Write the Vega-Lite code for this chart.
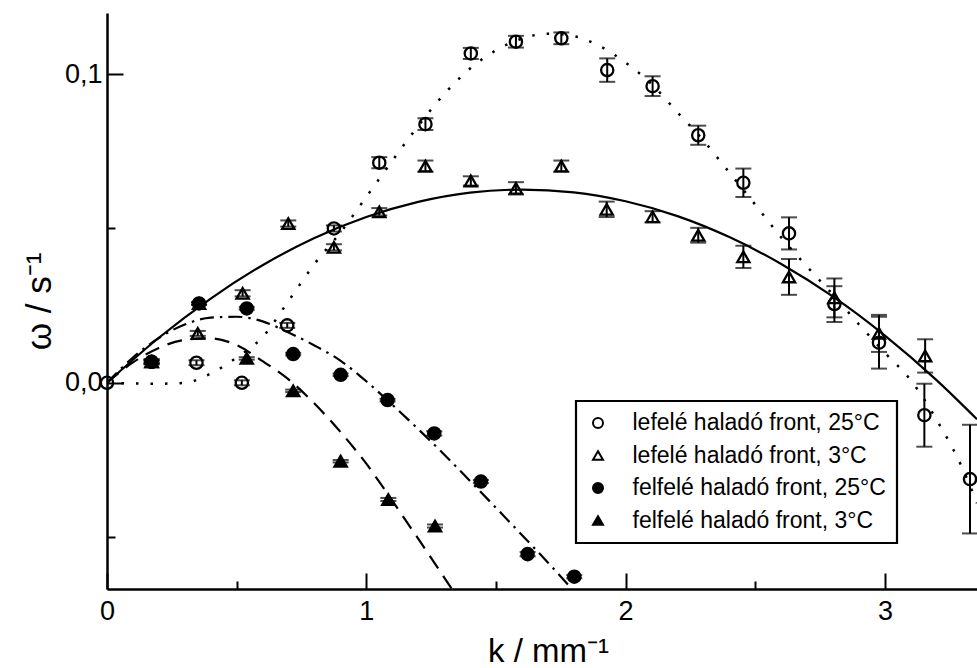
{
  "$schema": "https://vega.github.io/schema/vega-lite/v6.json",
  "width": 870,
  "height": 576,
  "autosize": {"type": "none"},
  "padding": {"left": 107, "top": 13, "right": 0, "bottom": 79},
  "background": "white",
  "config": {
    "view": {"stroke": null},
    "font": "Liberation Sans",
    "axis": {
      "domainColor": "black", "domainWidth": 2.5, "tickColor": "black", "tickWidth": 2,
      "labelColor": "black", "titleColor": "black", "labelFont": "Liberation Sans", "titleFont": "Liberation Sans",
      "labelFontSize": 27, "titleFontSize": 35, "titleFontWeight": "normal", "grid": false
    },
    "legend": {
      "labelFont": "Liberation Sans", "labelFontSize": 23, "labelColor": "black", "labelLimit": 500,
      "strokeColor": "black", "strokeWidth": 2.2, "fillColor": "white", "padding": 10.5,
      "symbolSize": 100, "symbolStrokeWidth": 2, "symbolOffset": 0,
      "labelOffset": 23, "rowPadding": 8.5
    }
  },
  "resolve": {"axis": {"x": "independent", "y": "independent"}},
  "datasets": {
    "pts": [
      {"s": "lefelé haladó front, 25°C", "k": 0, "w": 0, "e": 0},
      {"s": "lefelé haladó front, 25°C", "k": 0.172, "w": 0.0068, "e": 0.0008},
      {"s": "lefelé haladó front, 25°C", "k": 0.345, "w": 0.0065, "e": 0.0008},
      {"s": "lefelé haladó front, 25°C", "k": 0.52, "w": 0.0, "e": 0.0008},
      {"s": "lefelé haladó front, 25°C", "k": 0.695, "w": 0.0186, "e": 0.0008},
      {"s": "lefelé haladó front, 25°C", "k": 0.875, "w": 0.05, "e": 0.001},
      {"s": "lefelé haladó front, 25°C", "k": 1.05, "w": 0.0713, "e": 0.0018},
      {"s": "lefelé haladó front, 25°C", "k": 1.228, "w": 0.0838, "e": 0.0019},
      {"s": "lefelé haladó front, 25°C", "k": 1.403, "w": 0.1067, "e": 0.0018},
      {"s": "lefelé haladó front, 25°C", "k": 1.577, "w": 0.1105, "e": 0.0019},
      {"s": "lefelé haladó front, 25°C", "k": 1.752, "w": 0.1116, "e": 0.0019},
      {"s": "lefelé haladó front, 25°C", "k": 1.929, "w": 0.1013, "e": 0.0038},
      {"s": "lefelé haladó front, 25°C", "k": 2.104, "w": 0.0961, "e": 0.0032},
      {"s": "lefelé haladó front, 25°C", "k": 2.28, "w": 0.0802, "e": 0.0031},
      {"s": "lefelé haladó front, 25°C", "k": 2.454, "w": 0.0648, "e": 0.0046},
      {"s": "lefelé haladó front, 25°C", "k": 2.63, "w": 0.0484, "e": 0.0052},
      {"s": "lefelé haladó front, 25°C", "k": 2.805, "w": 0.0255, "e": 0.0058},
      {"s": "lefelé haladó front, 25°C", "k": 2.977, "w": 0.013, "e": 0.0084},
      {"s": "lefelé haladó front, 25°C", "k": 3.152, "w": -0.0105, "e": 0.0102},
      {"s": "lefelé haladó front, 25°C", "k": 3.328, "w": -0.0312, "e": 0.0176},
      {"s": "lefelé haladó front, 3°C", "k": 0.172, "w": 0.0068, "e": 0.0008},
      {"s": "lefelé haladó front, 3°C", "k": 0.35, "w": 0.016, "e": 0.0008},
      {"s": "lefelé haladó front, 3°C", "k": 0.523, "w": 0.029, "e": 0.001},
      {"s": "lefelé haladó front, 3°C", "k": 0.699, "w": 0.0516, "e": 0.001},
      {"s": "lefelé haladó front, 3°C", "k": 0.875, "w": 0.0439, "e": 0.001},
      {"s": "lefelé haladó front, 3°C", "k": 1.05, "w": 0.0554, "e": 0.0012},
      {"s": "lefelé haladó front, 3°C", "k": 1.228, "w": 0.0702, "e": 0.0018},
      {"s": "lefelé haladó front, 3°C", "k": 1.403, "w": 0.0654, "e": 0.0015},
      {"s": "lefelé haladó front, 3°C", "k": 1.577, "w": 0.063, "e": 0.002},
      {"s": "lefelé haladó front, 3°C", "k": 1.752, "w": 0.0702, "e": 0.0018},
      {"s": "lefelé haladó front, 3°C", "k": 1.927, "w": 0.0562, "e": 0.0025},
      {"s": "lefelé haladó front, 3°C", "k": 2.104, "w": 0.0538, "e": 0.0018},
      {"s": "lefelé haladó front, 3°C", "k": 2.28, "w": 0.0478, "e": 0.0024},
      {"s": "lefelé haladó front, 3°C", "k": 2.454, "w": 0.0408, "e": 0.0036},
      {"s": "lefelé haladó front, 3°C", "k": 2.63, "w": 0.0343, "e": 0.0058},
      {"s": "lefelé haladó front, 3°C", "k": 2.805, "w": 0.0275, "e": 0.0063},
      {"s": "lefelé haladó front, 3°C", "k": 2.977, "w": 0.016, "e": 0.006},
      {"s": "lefelé haladó front, 3°C", "k": 3.155, "w": 0.0087, "e": 0.0054},
      {"s": "felfelé haladó front, 25°C", "k": 0.172, "w": 0.0068, "e": 0.0004},
      {"s": "felfelé haladó front, 25°C", "k": 0.355, "w": 0.0257, "e": 0.0004},
      {"s": "felfelé haladó front, 25°C", "k": 0.539, "w": 0.0241, "e": 0.0004},
      {"s": "felfelé haladó front, 25°C", "k": 0.718, "w": 0.0093, "e": 0.0004},
      {"s": "felfelé haladó front, 25°C", "k": 0.901, "w": 0.0026, "e": 0.0004},
      {"s": "felfelé haladó front, 25°C", "k": 1.082, "w": -0.0056, "e": 0.0004},
      {"s": "felfelé haladó front, 25°C", "k": 1.262, "w": -0.0164, "e": 0.0007},
      {"s": "felfelé haladó front, 25°C", "k": 1.442, "w": -0.032, "e": 0.0005},
      {"s": "felfelé haladó front, 25°C", "k": 1.622, "w": -0.0555, "e": 0.0007},
      {"s": "felfelé haladó front, 25°C", "k": 1.802, "w": -0.0628, "e": 0.0005},
      {"s": "felfelé haladó front, 3°C", "k": 0.172, "w": 0.0068, "e": 0.0004},
      {"s": "felfelé haladó front, 3°C", "k": 0.355, "w": 0.0257, "e": 0.0004},
      {"s": "felfelé haladó front, 3°C", "k": 0.539, "w": 0.0079, "e": 0.0004},
      {"s": "felfelé haladó front, 3°C", "k": 0.718, "w": -0.0026, "e": 0.0004},
      {"s": "felfelé haladó front, 3°C", "k": 0.901, "w": -0.0254, "e": 0.0004},
      {"s": "felfelé haladó front, 3°C", "k": 1.085, "w": -0.0378, "e": 0.0005},
      {"s": "felfelé haladó front, 3°C", "k": 1.265, "w": -0.0464, "e": 0.0005}
    ],
    "curves": [
      {"c": "solid", "k": 0, "w": 0}, {"c": "solid", "k": 0.2, "w": 0.0146}, {"c": "solid", "k": 0.4, "w": 0.0273},
      {"c": "solid", "k": 0.6, "w": 0.0381}, {"c": "solid", "k": 0.8, "w": 0.0469}, {"c": "solid", "k": 1.0, "w": 0.0537},
      {"c": "solid", "k": 1.2, "w": 0.0586}, {"c": "solid", "k": 1.4, "w": 0.0616}, {"c": "solid", "k": 1.6, "w": 0.0626},
      {"c": "solid", "k": 1.8, "w": 0.0617}, {"c": "solid", "k": 2.0, "w": 0.0588}, {"c": "solid", "k": 2.2, "w": 0.054},
      {"c": "solid", "k": 2.4, "w": 0.0472}, {"c": "solid", "k": 2.6, "w": 0.0385}, {"c": "solid", "k": 2.8, "w": 0.0279},
      {"c": "solid", "k": 3.0, "w": 0.0153}, {"c": "solid", "k": 3.2, "w": 0.0008}, {"c": "solid", "k": 3.355, "w": -0.0118},

      {"c": "dotted", "k": 0, "w": 0}, {"c": "dotted", "k": 0.1, "w": -0.0002}, {"c": "dotted", "k": 0.2, "w": -0.0003},
      {"c": "dotted", "k": 0.3, "w": 0.0}, {"c": "dotted", "k": 0.4, "w": 0.003}, {"c": "dotted", "k": 0.5, "w": 0.0082},
      {"c": "dotted", "k": 0.6, "w": 0.0148}, {"c": "dotted", "k": 0.7, "w": 0.0265}, {"c": "dotted", "k": 0.8, "w": 0.0385},
      {"c": "dotted", "k": 0.9, "w": 0.0487}, {"c": "dotted", "k": 1.0, "w": 0.0602}, {"c": "dotted", "k": 1.1, "w": 0.0719},
      {"c": "dotted", "k": 1.2, "w": 0.0832}, {"c": "dotted", "k": 1.3, "w": 0.0935}, {"c": "dotted", "k": 1.4, "w": 0.1018},
      {"c": "dotted", "k": 1.5, "w": 0.1077}, {"c": "dotted", "k": 1.6, "w": 0.1115}, {"c": "dotted", "k": 1.7, "w": 0.1131},
      {"c": "dotted", "k": 1.8, "w": 0.1123}, {"c": "dotted", "k": 1.9, "w": 0.1091}, {"c": "dotted", "k": 2.0, "w": 0.1037},
      {"c": "dotted", "k": 2.1, "w": 0.0968}, {"c": "dotted", "k": 2.2, "w": 0.0876}, {"c": "dotted", "k": 2.3, "w": 0.0785},
      {"c": "dotted", "k": 2.4, "w": 0.0681}, {"c": "dotted", "k": 2.5, "w": 0.0577}, {"c": "dotted", "k": 2.6, "w": 0.0471},
      {"c": "dotted", "k": 2.7, "w": 0.0376}, {"c": "dotted", "k": 2.8, "w": 0.0285}, {"c": "dotted", "k": 2.9, "w": 0.0189},
      {"c": "dotted", "k": 3.0, "w": 0.0097}, {"c": "dotted", "k": 3.1, "w": 0.0008}, {"c": "dotted", "k": 3.2, "w": -0.0121},
      {"c": "dotted", "k": 3.3, "w": -0.0279}, {"c": "dotted", "k": 3.355, "w": -0.039},

      {"c": "dashdot", "k": 0, "w": 0}, {"c": "dashdot", "k": 0.1, "w": 0.0082}, {"c": "dashdot", "k": 0.2, "w": 0.0145},
      {"c": "dashdot", "k": 0.3, "w": 0.0189}, {"c": "dashdot", "k": 0.4, "w": 0.0211}, {"c": "dashdot", "k": 0.5, "w": 0.0214},
      {"c": "dashdot", "k": 0.6, "w": 0.0199}, {"c": "dashdot", "k": 0.7, "w": 0.0163}, {"c": "dashdot", "k": 0.8, "w": 0.0121},
      {"c": "dashdot", "k": 0.9, "w": 0.0072}, {"c": "dashdot", "k": 1.0, "w": 0.0005}, {"c": "dashdot", "k": 1.1, "w": -0.0071},
      {"c": "dashdot", "k": 1.2, "w": -0.015}, {"c": "dashdot", "k": 1.3, "w": -0.0232}, {"c": "dashdot", "k": 1.4, "w": -0.0318},
      {"c": "dashdot", "k": 1.5, "w": -0.0405}, {"c": "dashdot", "k": 1.6, "w": -0.0493}, {"c": "dashdot", "k": 1.7, "w": -0.0582},
      {"c": "dashdot", "k": 1.79, "w": -0.0665},

      {"c": "dashed", "k": 0, "w": 0}, {"c": "dashed", "k": 0.1, "w": 0.0066}, {"c": "dashed", "k": 0.2, "w": 0.0113},
      {"c": "dashed", "k": 0.3, "w": 0.0139}, {"c": "dashed", "k": 0.4, "w": 0.0144}, {"c": "dashed", "k": 0.5, "w": 0.0122},
      {"c": "dashed", "k": 0.6, "w": 0.007}, {"c": "dashed", "k": 0.7, "w": 0.0011}, {"c": "dashed", "k": 0.8, "w": -0.0067},
      {"c": "dashed", "k": 0.9, "w": -0.0159}, {"c": "dashed", "k": 1.0, "w": -0.0262}, {"c": "dashed", "k": 1.1, "w": -0.0382},
      {"c": "dashed", "k": 1.2, "w": -0.0505}, {"c": "dashed", "k": 1.3, "w": -0.063}, {"c": "dashed", "k": 1.33, "w": -0.0668}
    ]
  },
  "layer": [
    {
      "mark": {"type": "rule", "color": "#555555", "strokeWidth": 1.2, "strokeDash": [1.5, 3.5]},
      "encoding": {"y": {"datum": 0, "type": "quantitative", "axis": null}}
    },
    {
      "mark": {"type": "rule", "color": "black", "strokeWidth": 2.5},
      "encoding": {"y": {"datum": 0.1198, "type": "quantitative", "axis": null}}
    },
    {
      "data": {"name": "curves"},
      "transform": [{"filter": "datum.c == 'solid'"}],
      "mark": {"type": "line", "color": "black", "strokeWidth": 2.2, "clip": true, "interpolate": "monotone"},
      "encoding": {
        "x": {"field": "k", "type": "quantitative",
          "scale": {"domain": [0, 3.355], "nice": false, "zero": false},
          "axis": {"orient": "bottom", "title": "k / mm⁻¹", "values": [0, 1, 2, 3], "format": "d",
            "ticks": false, "labelPadding": 9, "labelFlush": false, "labelOverlap": false,
            "titleFontSize": 33, "titleBaseline": "alphabetic", "titleAlign": "center", "titleX": 441, "titleY": 72}},
        "y": {"field": "w", "type": "quantitative",
          "scale": {"domain": [-0.0668, 0.1198], "nice": false, "zero": false},
          "axis": {"orient": "left", "title": "ω / s⁻¹", "values": [0, 0.1],
            "labelExpr": "datum.value == 0 ? '0,0' : '0,1'",
            "ticks": false, "labelPadding": 5, "labelOverlap": false, "labelFlush": false,
            "titleBaseline": "alphabetic", "titleAlign": "center", "titleX": -57, "titleY": 288}}
      }
    },
    {
      "data": {"name": "curves"},
      "transform": [{"filter": "datum.c == 'dotted'"}],
      "mark": {"type": "line", "color": "black", "strokeWidth": 2.5, "clip": true, "interpolate": "monotone", "strokeDash": [2.5, 12]},
      "encoding": {
        "x": {"field": "k", "type": "quantitative",
          "axis": {"orient": "top", "offset": -576, "title": null, "values": [0, 1, 2, 3], "labels": false, "domain": false, "tickSize": 16}},
        "y": {"field": "w", "type": "quantitative",
          "axis": {"orient": "right", "offset": -870, "title": null, "values": [0, 0.1], "labels": false, "domain": false, "tickSize": 16}}
      }
    },
    {
      "data": {"name": "curves"},
      "transform": [{"filter": "datum.c == 'dashdot'"}],
      "mark": {"type": "line", "color": "black", "strokeWidth": 2.2, "clip": true, "interpolate": "monotone", "strokeDash": [14, 6, 2.5, 6]},
      "encoding": {
        "x": {"field": "k", "type": "quantitative",
          "axis": {"orient": "top", "offset": -576, "title": null, "values": [0.5, 1.5, 2.5], "labels": false, "domain": false, "tickSize": 8}},
        "y": {"field": "w", "type": "quantitative",
          "axis": {"orient": "right", "offset": -870, "title": null, "values": [-0.05, 0.05], "labels": false, "domain": false, "tickSize": 8}}
      }
    },
    {
      "data": {"name": "curves"},
      "transform": [{"filter": "datum.c == 'dashed'"}],
      "mark": {"type": "line", "color": "black", "strokeWidth": 2.2, "clip": true, "interpolate": "monotone", "strokeDash": [15, 9]},
      "encoding": {"x": {"field": "k", "type": "quantitative", "axis": null}, "y": {"field": "w", "type": "quantitative", "axis": null}}
    },
    {
      "data": {"name": "pts"},
      "transform": [{"filter": "datum.e > 0"}],
      "mark": {"type": "errorbar", "color": "black", "thickness": 2, "ticks": {"size": 16, "thickness": 2, "color": "black"}},
      "encoding": {
        "x": {"field": "k", "type": "quantitative", "axis": null},
        "y": {"field": "w", "type": "quantitative", "axis": null},
        "yError": {"field": "e"}
      }
    },
    {
      "data": {"name": "pts"},
      "mark": {"type": "point", "filled": true, "strokeWidth": 2.3, "size": 150, "opacity": 1},
      "encoding": {
        "x": {"field": "k", "type": "quantitative", "axis": null},
        "y": {"field": "w", "type": "quantitative", "axis": null},
        "shape": {"field": "s", "type": "nominal",
          "scale": {"domain": ["lefelé haladó front, 25°C", "lefelé haladó front, 3°C", "felfelé haladó front, 25°C", "felfelé haladó front, 3°C"],
                    "range": ["circle", "triangle-up", "circle", "triangle-up"]},
          "legend": {"orient": "none", "legendX": 469, "legendY": 388, "title": null}},
        "fill": {"field": "s", "type": "nominal",
          "scale": {"domain": ["lefelé haladó front, 25°C", "lefelé haladó front, 3°C", "felfelé haladó front, 25°C", "felfelé haladó front, 3°C"],
                    "range": ["transparent", "transparent", "black", "black"]},
          "legend": {"orient": "none", "legendX": 469, "legendY": 388, "title": null}},
        "stroke": {"field": "s", "type": "nominal",
          "scale": {"domain": ["lefelé haladó front, 25°C", "lefelé haladó front, 3°C", "felfelé haladó front, 25°C", "felfelé haladó front, 3°C"],
                    "range": ["black", "black", "black", "black"]},
          "legend": {"orient": "none", "legendX": 469, "legendY": 388, "title": null}}
      }
    }
  ]
}
